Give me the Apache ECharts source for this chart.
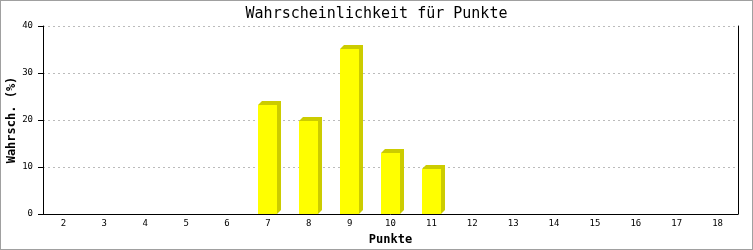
<!DOCTYPE html>
<html>
<head>
<meta charset="utf-8">
<script src="https://cdn.jsdelivr.net/npm/echarts@6/dist/echarts.min.js"></script>
<style>
html,body{margin:0;padding:0;background:#fff;}
#chart{width:753px;height:250px;}
</style>
</head>
<body>
<div id="chart"></div>
<script>
const titleText = 'Wahrscheinlichkeit für Punkte';
const xAxisName = 'Punkte';
const yAxisName = 'Wahrsch. (%)';
const categories = ['2','3','4','5','6','7','8','9','10','11','12','13','14','15','16','17','18'];
const probabilities = [0,0,0,0,0,23.2,19.8,35.2,13.0,9.6,0,0,0,0,0,0,0];
const yTicks = [0,10,20,30,40];

const chart = echarts.init(document.getElementById('chart'), null, {renderer:'canvas'});
const mono = '"DejaVu Sans Mono", monospace';

chart.setOption({
  animation: false,
  backgroundColor: '#ffffff',
  title: {
    text: titleText, left: 'center', top: 2,
    textStyle: {fontFamily: mono, fontSize: 15, fontWeight: 'normal', color: '#000'}
  },
  grid: {left: 43, right: 15, top: 26, bottom: 36, containLabel: false, outerBoundsMode: 'none'},
  graphic: [{
    type: 'rect', silent: true, z: 100,
    shape: {x: 0, y: 0, width: 753, height: 250},
    style: {fill: null, stroke: '#a0a0a0', lineWidth: 2}
  }],
  xAxis: {
    type: 'category', data: categories, boundaryGap: true,
    name: xAxisName, nameLocation: 'middle', nameGap: 20, nameMoveOverlap: false,
    nameTextStyle: {fontFamily: mono, fontSize: 12, fontWeight: 'bold', color: '#000'},
    axisLine: {lineStyle: {color: '#000', width: 1}},
    axisTick: {show: false},
    axisLabel: {fontFamily: mono, fontSize: 9, color: '#000', margin: 5}
  },
  yAxis: [{
    type: 'value', min: yTicks[0], max: yTicks[yTicks.length-1], interval: 10,
    name: yAxisName, nameLocation: 'middle', nameGap: 25, nameRotate: 90, nameMoveOverlap: false,
    nameTextStyle: {fontFamily: mono, fontSize: 12, fontWeight: 'bold', color: '#000'},
    axisLine: {show: true, lineStyle: {color: '#000', width: 1}},
    axisTick: {show: true, length: 5, lineStyle: {color: '#000'}},
    axisLabel: {fontFamily: mono, fontSize: 9, color: '#000', margin: 10},
    splitLine: {show: true, lineStyle: {color: '#bbbbbb', type: [2, 3], width: 1}}
  }, {
    type: 'value', min: yTicks[0], max: yTicks[yTicks.length-1], interval: 10, position: 'right',
    axisLine: {show: true, lineStyle: {color: '#000', width: 1}},
    axisTick: {show: false}, axisLabel: {show: false}, splitLine: {show: false}
  }],
  series: [{
    type: 'custom',
    data: categories.map((c, i) => [i, probabilities[i]]),
    renderItem: function (params, api) {
      const v = api.value(1);
      if (!v) return null;
      const base = api.coord([api.value(0), 0]);
      const top = api.coord([api.value(0), v]);
      const bw = api.size([1, 0])[0] * 0.465;
      const l = Math.round(top[0] - bw / 2), r = Math.round(top[0] + bw / 2);
      const t = Math.round(top[1]), b = Math.round(base[1]);
      const dx = 4, dy = 4;
      return {
        type: 'group',
        children: [
          {type: 'polygon', shape: {points: [[l, t], [l + dx, t - dy], [r + dx, t - dy], [r + dx, b - dy], [r, b]]}, style: {fill: '#cccc00'}},
          {type: 'rect', shape: {x: l, y: t, width: r - l, height: b - t}, style: {fill: '#ffff00'}}
        ]
      };
    }
  }]
});
</script>
</body>
</html>
